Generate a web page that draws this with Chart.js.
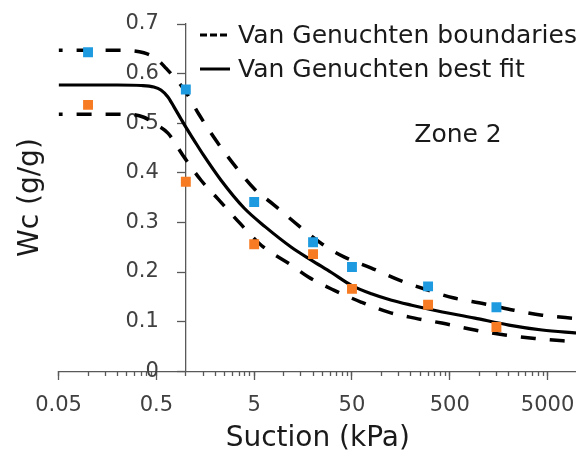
<!DOCTYPE html>
<html>
<head>
<meta charset="utf-8">
<script src="https://cdn.jsdelivr.net/npm/chart.js@4.4.1/dist/chart.umd.min.js"></script>
<style>
  html, body { margin: 0; padding: 0; background: #fff; overflow: hidden; }
  /* the original figure is cropped on the right, so the canvas runs past the window edge */
  #wrap { width: 584px; height: 456px; }
</style>
</head>
<body>
<div id="wrap"><canvas id="myChart"></canvas></div>
<script>
// measured points (suction kPa, water content g/g)
const suction = [0.1, 1, 5, 20, 50, 300, 1500];
const wcUpper = [0.643, 0.568, 0.341, 0.26, 0.21, 0.171, 0.129];
const wcLower = [0.537, 0.382, 0.256, 0.236, 0.166, 0.134, 0.089];

// van Genuchten curves
const fitX = [0.05, 0.2, 0.35, 0.47, 0.556, 0.656, 0.756, 0.89, 1, 1.21, 1.5, 2.29, 3.94, 6.5, 12, 19.2, 30.8, 49.4, 79, 127, 204, 327, 902, 2013, 4394, 10000];
const fitY = [0.577, 0.577, 0.576, 0.573, 0.567, 0.553, 0.533, 0.509, 0.492, 0.466, 0.437, 0.385, 0.329, 0.291, 0.25, 0.224, 0.199, 0.173, 0.156, 0.143, 0.133, 0.124, 0.107, 0.093, 0.083, 0.077];

const upX = [0.05, 0.2, 0.372, 0.5, 0.626, 1, 1.36, 2.09, 3.27, 5, 8, 14.1, 24.9, 41.9, 79, 150, 305, 540, 1117, 2265, 4394, 10000];
const upY = [0.647, 0.647, 0.642, 0.63, 0.611, 0.563, 0.518, 0.462, 0.411, 0.368, 0.335, 0.294, 0.256, 0.23, 0.208, 0.184, 0.163, 0.148, 0.136, 0.123, 0.113, 0.106];

const lowX = [0.05, 0.25, 0.372, 0.47, 0.656, 0.935, 1.43, 2.14, 3.51, 5.9, 12, 17.9, 33, 62.6, 118, 219, 414, 902, 1833, 3700, 10000];
const lowY = [0.518, 0.518, 0.512, 0.50, 0.48, 0.435, 0.385, 0.347, 0.30, 0.254, 0.214, 0.19, 0.163, 0.139, 0.119, 0.107, 0.097, 0.083, 0.073, 0.066, 0.059];

const xMajor = [0.05, 0.5, 5, 50, 500, 5000];
const xMax = 10000;
const yTicks = [0, 0.1, 0.2, 0.3, 0.4, 0.5, 0.6, 0.7];

const blue = "#1e9be0";
const orange = "#f77b22";
const ink = "#1a1a1a";
const tickInk = "#404040";
const axisGrey = "#595959";
const font = "DejaVu Sans";

const pts = (xs, ys) => xs.map((x, i) => ({x: x, y: ys[i]}));

// minor ticks of the log axis: 2..9 times every major value
const xMinor = [];
xMajor.forEach(v => {
  for (let m = 1; m < 10; m++) {
    const val = +(v * m).toPrecision(3);
    if (val <= xMax) xMinor.push(val);
  }
});
xMinor.push(xMax);

// the legend and the zone label sit inside the plot
const notes = {
  id: 'notes',
  afterDraw(chart) {
    const ctx = chart.ctx;
    ctx.save();
    ctx.strokeStyle = "#000";
    ctx.lineWidth = 3;
    ctx.setLineDash([7, 3]);
    ctx.beginPath(); ctx.moveTo(200, 35); ctx.lineTo(229, 35); ctx.stroke();
    ctx.setLineDash([]);
    ctx.beginPath(); ctx.moveTo(200, 69); ctx.lineTo(230, 69); ctx.stroke();
    ctx.fillStyle = ink;
    ctx.font = "25px " + font;
    ctx.textBaseline = "middle";
    ctx.textAlign = "left";
    ctx.fillText("Van Genuchten boundaries", 238, 36);
    ctx.fillText("Van Genuchten best fit", 238, 70);
    ctx.textAlign = "center";
    ctx.fillText("Zone 2", 458, 135);
    ctx.restore();
  }
};

const logAxis = (ticks, len, extra) => Object.assign({
  type: 'logarithmic',
  min: 0.05,
  max: xMax,
  afterBuildTicks: (axis) => { axis.ticks = ticks.map(v => ({value: v})); },
  grid: {drawOnChartArea: false, tickLength: len, tickColor: axisGrey, tickWidth: 1.3}
}, extra);

const wcAxis = (extra) => Object.assign({
  type: 'linear',
  min: 0,
  max: 0.7,
  afterBuildTicks: (axis) => { axis.ticks = yTicks.map(v => ({value: v})); }
}, extra);

new Chart("myChart", {
  type: 'scatter',
  data: {
    datasets: [
      {data: pts(suction, wcUpper), pointStyle: 'rect', pointRadius: 7, pointHoverRadius: 7,
        backgroundColor: blue, borderColor: blue, borderWidth: 0},
      {data: pts(suction, wcLower), pointStyle: 'rect', pointRadius: 7, pointHoverRadius: 7,
        backgroundColor: orange, borderColor: orange, borderWidth: 0},
      {data: pts(fitX, fitY), showLine: true, pointRadius: 0, borderColor: "#000", borderWidth: 3.2,
        cubicInterpolationMode: 'monotone'},
      {data: pts(upX, upY), showLine: true, pointRadius: 0, borderColor: "#000", borderWidth: 3.5,
        borderDash: [15, 14], borderDashOffset: 11, cubicInterpolationMode: 'monotone'},
      {data: pts(lowX, lowY), showLine: true, pointRadius: 0, borderColor: "#000", borderWidth: 3.5,
        borderDash: [15, 14], borderDashOffset: 11, cubicInterpolationMode: 'monotone'}
    ]
  },
  options: {
    responsive: true,
    maintainAspectRatio: false,
    animation: false,
    layout: {padding: {top: 24, right: 0, bottom: 0, left: 11}},
    plugins: {legend: {display: false}, tooltip: {enabled: false}},
    scales: {
      // labels and title of the suction axis; its own tick marks are hidden
      x: logAxis(xMajor.concat([xMax]), 22, {
        position: 'bottom',
        ticks: {
          autoSkip: false,
          maxRotation: 0,
          padding: 0,
          color: tickInk,
          font: {family: font, size: 21},
          callback: (v) => xMajor.includes(v) ? String(v) : ''
        },
        grid: {drawOnChartArea: false, tickLength: 22, tickColor: 'rgba(0,0,0,0)'},
        border: {color: axisGrey, width: 1.3},
        title: {display: true, text: 'Suction (kPa)', color: ink, font: {family: font, size: 28},
          padding: {top: 4, bottom: 0}}
      }),
      xMinorTicks: logAxis(xMinor, 5, {
        position: {y: 0},
        ticks: {display: false},
        border: {display: false}
      }),
      xMajorTicks: logAxis(xMajor, 9, {
        position: {y: 0},
        ticks: {display: false},
        border: {display: false}
      }),
      // axis line and tick marks cross the suction axis at 1 kPa
      y: wcAxis({
        position: {x: 1},
        ticks: {display: false},
        grid: {drawOnChartArea: false, tickLength: 8, tickColor: axisGrey, tickWidth: 1.3},
        border: {color: axisGrey, width: 1.3}
      }),
      // tick labels, set a little to the left of that line
      yLabels: wcAxis({
        position: {x: 0.53},
        ticks: {color: tickInk, font: {family: font, size: 21}},
        grid: {display: false},
        border: {display: false}
      }),
      yTitle: wcAxis({
        position: 'left',
        ticks: {display: false},
        grid: {display: false},
        border: {display: false},
        title: {display: true, text: 'Wc (g/g)', color: ink, font: {family: font, size: 28},
          padding: {top: 3, bottom: 3}}
      })
    }
  },
  plugins: [notes]
});
</script>
</body>
</html>
